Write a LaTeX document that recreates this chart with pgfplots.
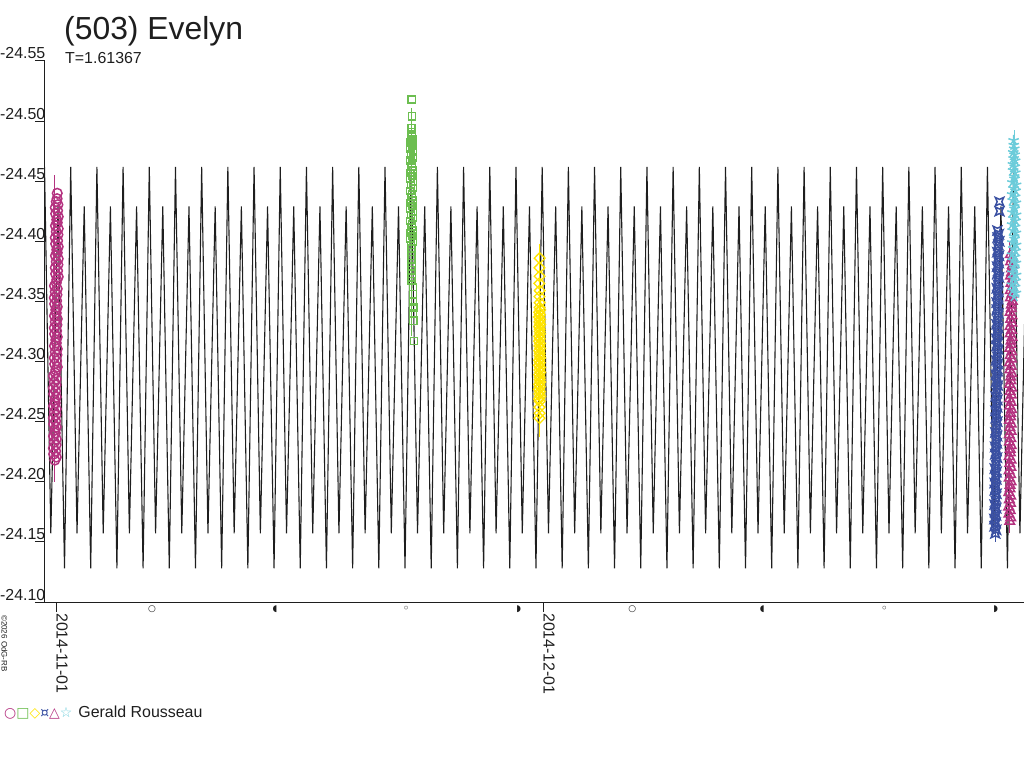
\documentclass[border=0pt]{standalone}
\usepackage{fontspec}
\setmainfont{Liberation Sans}
\newfontfamily\dejavu{DejaVu Sans}
\usepackage{pgfplots}
\pgfplotsset{compat=1.18}
\usetikzlibrary{plotmarks}
\definecolor{cmag}{RGB}{180,50,128}
\definecolor{cgrn}{RGB}{108,190,80}
\definecolor{cyel}{RGB}{255,228,0}
\definecolor{cblu}{RGB}{58,80,162}
\definecolor{ccya}{RGB}{108,204,218}
\definecolor{cblk}{RGB}{30,30,30}
\pgfdeclareplotmark{curr}{%
  \pgfpathmoveto{\pgfqpoint{\pgfplotmarksize}{\pgfplotmarksize}}%
  \pgfpathlineto{\pgfqpoint{0pt}{0.55\pgfplotmarksize}}%
  \pgfpathlineto{\pgfqpoint{-\pgfplotmarksize}{\pgfplotmarksize}}%
  \pgfpathlineto{\pgfqpoint{-0.55\pgfplotmarksize}{0pt}}%
  \pgfpathlineto{\pgfqpoint{-\pgfplotmarksize}{-\pgfplotmarksize}}%
  \pgfpathlineto{\pgfqpoint{0pt}{-0.55\pgfplotmarksize}}%
  \pgfpathlineto{\pgfqpoint{\pgfplotmarksize}{-\pgfplotmarksize}}%
  \pgfpathlineto{\pgfqpoint{0.55\pgfplotmarksize}{0pt}}%
  \pgfpathclose
  \pgfusepathqstroke}
\begin{document}
\begin{tikzpicture}
\path[use as bounding box] (0,0) rectangle (1024bp,768bp);
\begin{axis}[
  at={(45bp,166bp)}, anchor=south west,
  scale only axis, width=979bp, height=541bp,
  xmin=-0.715, xmax=59.6,
  ymin=-24.55, ymax=-24.10, y dir=reverse,
  axis x line*=bottom, axis y line*=left,
  axis line style={cblk, line width=1bp, -},
  tick style={cblk, line width=1bp},
  tick align=outside, major tick length=10bp,
  xtick={0,30}, xticklabels={2014-11-01,2014-12-01},
  ytick={-24.55,-24.50,-24.45,-24.40,-24.35,-24.30,-24.25,-24.20,-24.15,-24.10},
  yticklabels={-24.55,-24.50,-24.45,-24.40,-24.35,-24.30,-24.25,-24.20,-24.15,-24.10},
  ticklabel style={font=\fontsize{16}{16}\selectfont, text=cblk, inner sep=0pt},
  xticklabel style={rotate=-90, anchor=base west, xshift=1bp},
  yticklabel style={anchor=base east, xshift=10.5bp, yshift=2bp},
  clip mode=individual,
]
% model lightcurve
\addplot[cblk, line width=1.1bp] coordinates {
(-0.745,-24.462) (-0.357,-24.157) (0.087,-24.429) (0.487,-24.128)
(0.869,-24.462) (1.257,-24.157) (1.701,-24.429) (2.101,-24.128)
(2.483,-24.462) (2.871,-24.157) (3.315,-24.429) (3.715,-24.128)
(4.096,-24.462) (4.484,-24.157) (4.928,-24.429) (5.328,-24.128)
(5.710,-24.462) (6.098,-24.157) (6.542,-24.429) (6.942,-24.128)
(7.324,-24.462) (7.712,-24.157) (8.156,-24.429) (8.556,-24.128)
(8.937,-24.462) (9.325,-24.157) (9.769,-24.429) (10.169,-24.128)
(10.551,-24.462) (10.939,-24.157) (11.383,-24.429) (11.783,-24.128)
(12.165,-24.462) (12.553,-24.157) (12.997,-24.429) (13.397,-24.128)
(13.778,-24.462) (14.166,-24.157) (14.610,-24.429) (15.010,-24.128)
(15.392,-24.462) (15.780,-24.157) (16.224,-24.429) (16.624,-24.128)
(17.006,-24.462) (17.394,-24.157) (17.838,-24.429) (18.238,-24.128)
(18.619,-24.462) (19.007,-24.157) (19.451,-24.429) (19.851,-24.128)
(20.233,-24.462) (20.621,-24.157) (21.065,-24.429) (21.465,-24.128)
(21.847,-24.462) (22.235,-24.157) (22.679,-24.429) (23.079,-24.128)
(23.460,-24.462) (23.848,-24.157) (24.292,-24.429) (24.692,-24.128)
(25.074,-24.462) (25.462,-24.157) (25.906,-24.429) (26.306,-24.128)
(26.688,-24.462) (27.076,-24.157) (27.520,-24.429) (27.920,-24.128)
(28.301,-24.462) (28.689,-24.157) (29.133,-24.429) (29.533,-24.128)
(29.915,-24.462) (30.303,-24.157) (30.747,-24.429) (31.147,-24.128)
(31.529,-24.462) (31.917,-24.157) (32.361,-24.429) (32.761,-24.128)
(33.142,-24.462) (33.530,-24.157) (33.974,-24.429) (34.374,-24.128)
(34.756,-24.462) (35.144,-24.157) (35.588,-24.429) (35.988,-24.128)
(36.370,-24.462) (36.758,-24.157) (37.202,-24.429) (37.602,-24.128)
(37.983,-24.462) (38.371,-24.157) (38.815,-24.429) (39.215,-24.128)
(39.597,-24.462) (39.985,-24.157) (40.429,-24.429) (40.829,-24.128)
(41.211,-24.462) (41.599,-24.157) (42.043,-24.429) (42.443,-24.128)
(42.824,-24.462) (43.212,-24.157) (43.656,-24.429) (44.056,-24.128)
(44.438,-24.462) (44.826,-24.157) (45.270,-24.429) (45.670,-24.128)
(46.052,-24.462) (46.440,-24.157) (46.884,-24.429) (47.284,-24.128)
(47.665,-24.462) (48.053,-24.157) (48.497,-24.429) (48.897,-24.128)
(49.279,-24.462) (49.667,-24.157) (50.111,-24.429) (50.511,-24.128)
(50.893,-24.462) (51.281,-24.157) (51.725,-24.429) (52.125,-24.128)
(52.506,-24.462) (52.894,-24.157) (53.338,-24.429) (53.738,-24.128)
(54.120,-24.462) (54.508,-24.157) (54.952,-24.429) (55.352,-24.128)
(55.734,-24.462) (56.122,-24.157) (56.566,-24.429) (56.966,-24.128)
(57.347,-24.462) (57.735,-24.157) (58.179,-24.429) (58.579,-24.128)
(58.961,-24.462) (59.349,-24.157) (59.793,-24.429)
};
% session lines
\addplot[cmag, line width=0.9bp] coordinates {(-0.16,-24.455) (-0.16,-24.200)};
\addplot[cgrn, line width=0.9bp] coordinates {(21.883,-24.511) (21.883,-24.321)};
\addplot[cyel, line width=0.9bp] coordinates {(29.765,-24.398) (29.765,-24.237)};
\addplot[cblu, line width=0.9bp] coordinates {(57.87,-24.409) (57.87,-24.150)};
\addplot[cmag, line width=0.9bp] coordinates {(58.69,-24.400) (58.69,-24.157)};
\addplot[ccya, line width=0.9bp] coordinates {(58.99,-24.4925) (58.99,-24.360)};
% magenta circles
\addplot[only marks, mark=o, mark size=4.8bp, cmag, mark options={line width=1.5bp}] coordinates {
(-0.11,-24.2180) (-0.02,-24.2205) (-0.18,-24.2230) (-0.06,-24.2255) (-0.20,-24.2280) (-0.04,-24.2305) (-0.14,-24.2330) (-0.02,-24.2355) (-0.19,-24.2380) (-0.08,-24.2405)
(-0.11,-24.2430) (-0.02,-24.2455) (-0.18,-24.2480) (-0.06,-24.2505) (-0.20,-24.2530) (-0.04,-24.2555) (-0.14,-24.2580) (-0.02,-24.2605) (-0.19,-24.2630) (-0.08,-24.2655)
(-0.11,-24.2680) (-0.02,-24.2705) (-0.18,-24.2730) (-0.06,-24.2755) (-0.20,-24.2780) (-0.04,-24.2805) (-0.14,-24.2830) (-0.02,-24.2855) (-0.19,-24.2880) (-0.08,-24.2905)
(-0.05,-24.2930) (0.04,-24.2955) (-0.12,-24.2980) (0.00,-24.3005) (-0.14,-24.3030) (0.02,-24.3055) (-0.08,-24.3080) (0.04,-24.3105) (-0.13,-24.3130) (-0.02,-24.3155)
(-0.05,-24.3180) (0.04,-24.3205) (-0.12,-24.3230) (0.00,-24.3255) (-0.14,-24.3280) (0.02,-24.3305) (-0.08,-24.3330) (0.04,-24.3355) (-0.13,-24.3380) (-0.02,-24.3405)
(-0.05,-24.3430) (0.04,-24.3455) (-0.12,-24.3480) (0.00,-24.3505) (-0.14,-24.3530) (0.02,-24.3555) (-0.08,-24.3580) (0.04,-24.3605) (-0.13,-24.3630) (-0.02,-24.3655)
(0.01,-24.3680) (0.10,-24.3705) (-0.06,-24.3730) (0.06,-24.3755) (-0.08,-24.3780) (0.08,-24.3805) (-0.02,-24.3830) (0.10,-24.3855) (-0.07,-24.3880) (0.04,-24.3905)
(0.01,-24.3930) (0.10,-24.3955) (-0.06,-24.3980) (0.06,-24.4005) (-0.08,-24.4030) (0.08,-24.4055) (-0.02,-24.4080) (0.10,-24.4105) (-0.07,-24.4130) (0.04,-24.4155)
(0.01,-24.4180) (0.10,-24.4205) (-0.06,-24.4230) (0.06,-24.4255) (-0.08,-24.4280) (0.08,-24.4305) (-0.02,-24.4330) (0.03,-24.4355) (0.04,-24.4400)
};
% green squares
\addplot[only marks, mark=square, mark size=3.6bp, cgrn, mark options={line width=1.4bp}] coordinates {
(21.880,-24.518) (21.890,-24.504) (21.870,-24.494) (21.884,-24.491) (21.876,-24.489)
(21.875,-24.4870) (21.965,-24.4845) (21.805,-24.4820) (21.925,-24.4795) (21.785,-24.4770) (21.945,-24.4745) (21.845,-24.4720) (21.965,-24.4695) (21.795,-24.4670) (21.905,-24.4645)
(21.875,-24.4620) (21.965,-24.4595) (21.805,-24.4570) (21.925,-24.4545) (21.785,-24.4520) (21.945,-24.4495) (21.845,-24.4470) (21.965,-24.4445) (21.795,-24.4420) (21.905,-24.4395)
(21.875,-24.4370) (21.965,-24.4345) (21.805,-24.4320) (21.925,-24.4295) (21.785,-24.4270) (21.945,-24.4245) (21.845,-24.4220) (21.965,-24.4195) (21.795,-24.4170) (21.905,-24.4145)
(21.875,-24.4120) (21.965,-24.4095) (21.805,-24.4070) (21.925,-24.4045) (21.785,-24.4020) (21.945,-24.3995) (21.845,-24.3970)
(21.88,-24.394) (21.86,-24.391) (21.90,-24.388) (21.87,-24.385) (21.89,-24.382) (21.88,-24.379) (21.86,-24.376) (21.90,-24.373) (21.88,-24.370) (21.87,-24.367)
(21.95,-24.362) (21.96,-24.356) (21.95,-24.350) (21.97,-24.345) (21.96,-24.340) (21.97,-24.334) (22.03,-24.317)
};
% yellow diamonds
\addplot[only marks, mark=diamond, mark size=5.5bp, cyel, mark options={line width=1.3bp, xscale=1.3}] coordinates {
(29.76,-24.386) (29.75,-24.378) (29.76,-24.371) (29.74,-24.365) (29.76,-24.359) (29.75,-24.354) (29.76,-24.349)
(29.755,-24.345) (29.795,-24.343) (29.725,-24.341) (29.775,-24.339) (29.715,-24.337) (29.785,-24.335) (29.745,-24.333) (29.795,-24.331) (29.725,-24.329) (29.765,-24.327)
(29.755,-24.325) (29.795,-24.323) (29.725,-24.321) (29.775,-24.319) (29.715,-24.317) (29.785,-24.315) (29.745,-24.313) (29.795,-24.311) (29.725,-24.309) (29.765,-24.307)
(29.755,-24.305) (29.795,-24.303) (29.725,-24.301) (29.775,-24.299) (29.715,-24.297) (29.785,-24.295) (29.745,-24.293) (29.795,-24.291) (29.725,-24.289) (29.765,-24.287)
(29.755,-24.285) (29.795,-24.283) (29.725,-24.281) (29.775,-24.279) (29.715,-24.277) (29.785,-24.275) (29.745,-24.273) (29.795,-24.271) (29.725,-24.269) (29.765,-24.267)
(29.75,-24.262) (29.76,-24.257) (29.75,-24.253)
};
% blue
\addplot[only marks, mark=curr, mark size=4.2bp, cblu, mark options={line width=1.5bp}] coordinates {
(57.83,-24.157) (57.89,-24.160) (57.78,-24.163) (57.86,-24.166) (57.77,-24.169) (57.88,-24.172) (57.81,-24.175) (57.89,-24.178) (57.78,-24.181) (57.85,-24.184)
(57.85,-24.187) (57.91,-24.190) (57.80,-24.193) (57.88,-24.196) (57.79,-24.199) (57.90,-24.202) (57.83,-24.205) (57.91,-24.208) (57.80,-24.211) (57.87,-24.214)
(57.88,-24.217) (57.94,-24.220) (57.83,-24.223) (57.91,-24.226) (57.82,-24.229) (57.93,-24.232) (57.86,-24.235) (57.94,-24.238) (57.83,-24.241) (57.90,-24.244)
(57.90,-24.247) (57.96,-24.250) (57.85,-24.253) (57.93,-24.256) (57.84,-24.259) (57.95,-24.262) (57.88,-24.265) (57.96,-24.268) (57.85,-24.271) (57.92,-24.274)
(57.93,-24.277) (57.99,-24.280) (57.88,-24.283) (57.96,-24.286) (57.87,-24.289) (57.98,-24.292) (57.91,-24.295) (57.99,-24.298) (57.88,-24.301) (57.95,-24.304)
(57.95,-24.307) (58.01,-24.310) (57.90,-24.313) (57.98,-24.316) (57.89,-24.319) (58.00,-24.322) (57.93,-24.325) (58.01,-24.328) (57.90,-24.331) (57.97,-24.334)
(57.97,-24.337) (58.03,-24.340) (57.92,-24.343) (58.00,-24.346) (57.91,-24.349) (58.02,-24.352) (57.95,-24.355) (58.03,-24.358) (57.92,-24.361) (57.99,-24.364)
(58.00,-24.367) (58.06,-24.370) (57.95,-24.373) (58.03,-24.376) (57.94,-24.379) (58.05,-24.382) (57.98,-24.385) (58.06,-24.388) (57.95,-24.391) (58.02,-24.394)
(58.02,-24.397) (58.08,-24.400) (57.97,-24.403) (58.05,-24.406) (57.96,-24.409)
(58.09,-24.425) (58.09,-24.433)
};
% magenta triangles
\addplot[only marks, mark=triangle, mark size=5.5bp, cmag, mark options={line width=1.5bp}] coordinates {
(58.72,-24.167) (58.78,-24.170) (58.67,-24.173) (58.75,-24.176) (58.66,-24.179) (58.77,-24.182) (58.70,-24.185) (58.78,-24.188) (58.67,-24.191) (58.74,-24.194)
(58.74,-24.197) (58.80,-24.200) (58.69,-24.203) (58.77,-24.206) (58.68,-24.209) (58.79,-24.212) (58.72,-24.215) (58.80,-24.218) (58.69,-24.221) (58.76,-24.224)
(58.75,-24.227) (58.81,-24.230) (58.70,-24.233) (58.78,-24.236) (58.69,-24.239) (58.80,-24.242) (58.73,-24.245) (58.81,-24.248) (58.70,-24.251) (58.77,-24.254)
(58.77,-24.257) (58.83,-24.260) (58.72,-24.263) (58.80,-24.266) (58.71,-24.269) (58.82,-24.272) (58.75,-24.275) (58.83,-24.278) (58.72,-24.281) (58.79,-24.284)
(58.78,-24.287) (58.84,-24.290) (58.73,-24.293) (58.81,-24.296) (58.72,-24.299) (58.83,-24.302) (58.76,-24.305) (58.84,-24.308) (58.73,-24.311) (58.80,-24.314)
(58.80,-24.317) (58.86,-24.320) (58.75,-24.323) (58.83,-24.326) (58.74,-24.329) (58.85,-24.332) (58.78,-24.335) (58.86,-24.338) (58.75,-24.341) (58.82,-24.344)
(58.82,-24.347) (58.88,-24.350) (58.77,-24.353) (58.85,-24.356) (58.76,-24.359) (58.87,-24.362) (58.80,-24.365) (58.88,-24.368) (58.77,-24.371) (58.84,-24.374)
(58.83,-24.377) (58.89,-24.380) (58.78,-24.383) (58.86,-24.386) (58.77,-24.389)
};
% cyan stars
\addplot[only marks, mark=star, mark size=5.5bp, ccya, mark options={line width=1.5bp}] coordinates {
(58.99,-24.354) (59.10,-24.357) (58.90,-24.359) (59.05,-24.362) (58.87,-24.364) (59.08,-24.367) (58.95,-24.369) (59.11,-24.372) (58.89,-24.374) (59.02,-24.377)
(58.99,-24.379) (59.10,-24.382) (58.90,-24.384) (59.05,-24.387) (58.87,-24.389) (59.08,-24.392) (58.95,-24.394) (59.11,-24.397) (58.89,-24.399) (59.02,-24.402)
(58.99,-24.404) (59.10,-24.407) (58.90,-24.409) (59.05,-24.412) (58.87,-24.414) (59.08,-24.417) (58.95,-24.419) (59.11,-24.422) (58.89,-24.424) (59.02,-24.427)
(58.99,-24.429) (59.10,-24.432) (58.90,-24.434) (59.05,-24.437) (58.87,-24.439) (59.08,-24.442) (58.95,-24.444) (59.11,-24.447) (58.89,-24.449) (59.02,-24.452)
(58.99,-24.454) (59.06,-24.457) (58.93,-24.459) (59.03,-24.462) (58.92,-24.464) (59.05,-24.467) (58.96,-24.469) (59.02,-24.472) (58.94,-24.474) (59.00,-24.477)
(58.97,-24.480) (58.96,-24.484)
};
% moon phases
\foreach \d/\g/\s in {5.88/○/9, 13.46/◖/9, 21.53/◦/12, 28.47/◗/9, 35.46/○/9, 43.47/◖/9, 51.0/◦/12, 57.86/◗/9}{
  \edef\temp{\noexpand\node[font=\noexpand\dejavu\noexpand\fontsize{\s}{\s}\noexpand\selectfont, text=cblk, inner sep=0pt, anchor=north] at (axis cs:\d,-24.10) [yshift=-4bp] {\g};}
  \temp
}
\end{axis}
\node[anchor=base west, inner sep=0pt, text=cblk, font=\fontsize{32}{32}\selectfont] at (64bp,728.5bp) {(503) Evelyn};
\node[anchor=base west, inner sep=0pt, text=cblk, font=\fontsize{16}{16}\selectfont] at (65bp,704bp) {T=1.61367};
\node[anchor=base west, inner sep=0pt, text=cblk, rotate=-90, font=\fontsize{8}{8}\selectfont] at (1.5bp,153bp) {©2026 OdG-RB};
\node[anchor=base west, inner sep=0pt, text=cblk] at (4bp,50.3bp) {{\dejavu\fontsize{14}{14}\selectfont\textcolor{cmag}{○}\textcolor{cgrn}{□}\textcolor{cyel}{◇}\textcolor{cblu}{¤}\textcolor{cmag}{△}\textcolor{ccya}{☆}}\hspace{6bp}{\fontsize{16}{16}\selectfont Gerald Rousseau}};
\end{tikzpicture}
\end{document}
